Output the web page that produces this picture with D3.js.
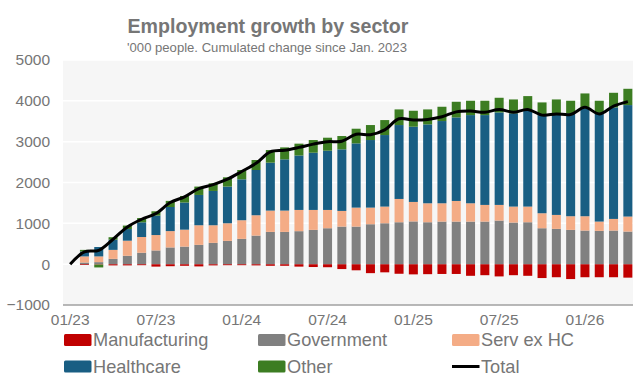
<!DOCTYPE html>
<html>
<head>
<meta charset="utf-8">
<script src="https://cdn.jsdelivr.net/npm/d3@7"></script>
<style>
  html, body { margin: 0; padding: 0; background: #ffffff; }
  svg { display: block; font-family: "Liberation Sans", Arial, sans-serif; }
</style>
</head>
<body>
<svg id="chart" width="633" height="377"></svg>
<script>
// Monthly observations, Jan 2023 to Apr 2026 ('000 people, cumulative change since Jan 2023)
const months = [
  "01/23","02/23","03/23","04/23","05/23","06/23","07/23","08/23","09/23","10/23","11/23","12/23",
  "01/24","02/24","03/24","04/24","05/24","06/24","07/24","08/24","09/24","10/24","11/24","12/24",
  "01/25","02/25","03/25","04/25","05/25","06/25","07/25","08/25","09/25","10/25","11/25","12/25",
  "01/26","02/26","03/26","04/26"
];
const manufacturing = [0,-20,-10,-30,-30,-25,-60,-50,-40,-55,-30,-25,
  -25,-30,-40,-40,-60,-70,-75,-120,-150,-220,-200,-235,
  -250,-245,-240,-240,-285,-270,-300,-270,-285,-340,-320,-365,
  -320,-320,-320,-330];
const government = [0,40,50,130,205,280,336,410,430,473,522,570,
  620,700,790,790,808,840,880,920,920,978,1002,1027,
  1047,1027,1043,1043,1043,1043,1068,1019,1027,880,864,840,
  823,815,823,799];
const servExHC = [0,150,140,220,370,385,377,400,415,480,431,432,
  456,498,522,522,520,488,448,384,465,407,408,570,
  477,464,448,505,448,408,383,391,383,367,342,334,
  351,228,285,367];
const healthcare = [0,120,230,250,285,360,477,590,665,742,840,898,
  1002,1108,1174,1255,1333,1402,1451,1508,1573,1655,1752,1810,
  1842,1932,2014,2046,2160,2200,2265,2282,2380,2404,2486,2518,
  2640,2649,2731,2730];
const other = [0,40,-70,60,85,105,105,150,160,205,187,227,
  228,245,309,293,290,310,318,326,359,367,367,383,
  391,367,350,383,351,351,359,342,326,310,342,310,
  367,310,358,399];
const total = [0,300,340,610,910,1100,1240,1510,1650,1850,1948,2080,
  2270,2470,2750,2790,2860,2940,3000,3010,3180,3170,3290,3560,
  3530,3545,3610,3730,3750,3720,3790,3720,3790,3650,3680,3665,
  3840,3680,3870,3980];
const yTicks = [-1000, 0, 1000, 2000, 3000, 4000, 5000];
const xTickLabels = ["01/23","07/23","01/24","07/24","01/25","07/25","01/26"];

const seriesKeys = ["Manufacturing","Government","Serv ex HC","Healthcare","Other"];
const seriesValues = [manufacturing, government, servExHC, healthcare, other];
const colors = {
  "Manufacturing": "#c00000",
  "Government": "#808080",
  "Serv ex HC": "#f4ac86",
  "Healthcare": "#195e83",
  "Other": "#3c7d22"
};

const rows = months.map((m, i) => {
  const r = { month: m };
  seriesKeys.forEach((k, j) => { r[k] = seriesValues[j][i]; });
  return r;
});

const svg = d3.select("#chart");
const plot = { left: 63, right: 633, top: 60, bottom: 305 };

const x = d3.scaleBand().domain(months).range([63, 635]).paddingInner(0.37).paddingOuter(0.185);
const y = d3.scaleLinear().domain([-1000, 5000]).range([plot.bottom, plot.top]);

// plot background
svg.append("rect")
  .attr("x", plot.left).attr("y", plot.top)
  .attr("width", plot.right - plot.left).attr("height", plot.bottom - plot.top)
  .attr("fill", "#f6f6f6");

// horizontal gridlines
svg.append("g").selectAll("line").data(yTicks.filter(t => t > -1000)).join("line")
  .attr("x1", plot.left).attr("x2", plot.right)
  .attr("y1", d => y(d)).attr("y2", d => y(d))
  .attr("stroke", "#ffffff").attr("stroke-width", 1.5);

// title and subtitle
svg.append("text").attr("x", 268).attr("y", 33).attr("text-anchor", "middle")
  .attr("font-size", 19.6).attr("font-weight", "bold").attr("fill", "#767676")
  .text("Employment growth by sector");
svg.append("text").attr("x", 267).attr("y", 51.5).attr("text-anchor", "middle")
  .attr("font-size", 13.1).attr("fill", "#767676")
  .text("'000 people. Cumulated change since Jan. 2023");

// stacked bars
const stack = d3.stack().keys(seriesKeys).offset(d3.stackOffsetDiverging);
const layers = stack(rows);
svg.append("g").selectAll("g").data(layers).join("g")
  .attr("fill", d => colors[d.key])
  .selectAll("rect").data(d => d).join("rect")
  .attr("x", d => x(d.data.month))
  .attr("width", x.bandwidth())
  .attr("y", d => y(Math.max(d[0], d[1])))
  .attr("height", d => Math.abs(y(d[0]) - y(d[1])));

// total line
const line = d3.line()
  .x((d, i) => x(months[i]) + x.bandwidth() / 2)
  .y(d => y(d))
  .curve(d3.curveCatmullRom.alpha(0.5));
svg.append("path").datum(total)
  .attr("d", line)
  .attr("fill", "none").attr("stroke", "#000000").attr("stroke-width", 3)
  .attr("stroke-linejoin", "round");

// y axis
const yAxis = d3.axisLeft(y).tickValues(yTicks).tickSize(0).tickPadding(13).tickFormat(d3.format("d"));
const gy = svg.append("g").attr("transform", `translate(${plot.left},0)`).call(yAxis);
gy.select(".domain").remove();
gy.selectAll("text").attr("font-size", 15.5).attr("fill", "#767676")
  .attr("font-family", "'Liberation Sans', Arial, sans-serif");

// x axis
const xAxis = d3.axisBottom(x).tickValues(xTickLabels).tickSize(0).tickPadding(9);
const gx = svg.append("g").attr("transform", `translate(0,${plot.bottom})`).call(xAxis);
gx.select(".domain").attr("stroke", "#a0a0a0").attr("stroke-width", 1.5)
  .attr("d", `M${plot.left},0H${plot.right}`);
gx.selectAll("text").attr("font-size", 15.5).attr("fill", "#767676")
  .attr("font-family", "'Liberation Sans', Arial, sans-serif");

// legend
const legendItems = [
  { key: "Manufacturing", col: 0, row: 0 },
  { key: "Government", col: 1, row: 0 },
  { key: "Serv ex HC", col: 2, row: 0 },
  { key: "Healthcare", col: 0, row: 1 },
  { key: "Other", col: 1, row: 1 },
  { key: "Total", col: 2, row: 1 }
];
const colX = [64, 258, 452];
const rowY = [340, 366.5];
const lg = svg.append("g").selectAll("g").data(legendItems).join("g")
  .attr("transform", d => `translate(${colX[d.col]},${rowY[d.row]})`);
lg.filter(d => d.key !== "Total").append("rect")
  .attr("x", 0).attr("y", -6).attr("width", 27.5).attr("height", 12).attr("rx", 1.5)
  .attr("fill", d => colors[d.key]);
lg.filter(d => d.key === "Total").append("line")
  .attr("x1", 0).attr("x2", 27.5).attr("y1", 0).attr("y2", 0)
  .attr("stroke", "#000000").attr("stroke-width", 3);
lg.append("text").attr("x", 29).attr("y", 6)
  .attr("font-size", 18.2).attr("fill", "#767676")
  .text(d => d.key);
</script>
</body>
</html>
